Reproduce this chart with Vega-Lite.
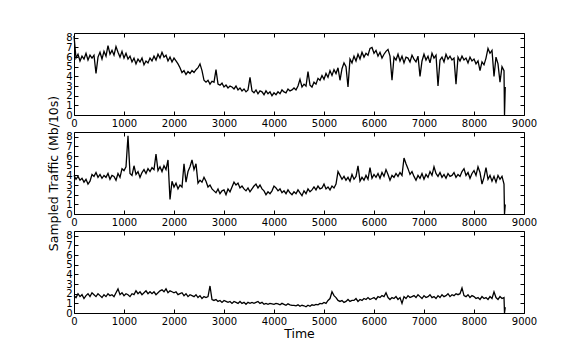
{
  "$schema": "https://vega.github.io/schema/vega-lite/v6.json",
  "padding": {"left": 47, "top": 32, "right": 5, "bottom": 5},
  "background": "white",
  "bounds": "flush",
  "spacing": 17,
  "data": {"values": [
{"t":0,"a":8.2,"b":4.0,"c":1.8},
{"t":40,"a":5.9,"b":3.6,"c":1.6},
{"t":80,"a":6.3,"b":3.9,"c":2.0},
{"t":120,"a":5.6,"b":3.5,"c":1.7},
{"t":160,"a":6.1,"b":3.7,"c":1.9},
{"t":200,"a":5.8,"b":3.3,"c":1.5},
{"t":240,"a":6.4,"b":3.6,"c":1.8},
{"t":280,"a":5.7,"b":3.1,"c":2.0},
{"t":320,"a":6.2,"b":3.4,"c":1.7},
{"t":360,"a":5.9,"b":4.1,"c":2.1},
{"t":400,"a":6.2,"b":3.9,"c":1.9},
{"t":440,"a":4.3,"b":4.3,"c":1.7},
{"t":480,"a":6.0,"b":3.8,"c":2.0},
{"t":520,"a":6.5,"b":4.1,"c":1.8},
{"t":560,"a":5.8,"b":3.7,"c":1.6},
{"t":600,"a":6.6,"b":4.0,"c":1.9},
{"t":640,"a":6.1,"b":3.8,"c":1.7},
{"t":680,"a":7.2,"b":4.2,"c":2.0},
{"t":720,"a":6.3,"b":3.6,"c":1.8},
{"t":760,"a":6.7,"b":4.0,"c":1.9},
{"t":800,"a":6.2,"b":3.9,"c":1.7},
{"t":840,"a":7.1,"b":3.5,"c":2.1},
{"t":880,"a":6.5,"b":4.2,"c":2.5},
{"t":920,"a":6.0,"b":3.8,"c":1.9},
{"t":960,"a":6.6,"b":4.7,"c":2.1},
{"t":1000,"a":5.9,"b":4.5,"c":1.8},
{"t":1040,"a":6.4,"b":4.9,"c":2.0},
{"t":1080,"a":5.8,"b":8.1,"c":1.9},
{"t":1120,"a":6.1,"b":4.2,"c":1.7},
{"t":1160,"a":5.5,"b":4.0,"c":2.0},
{"t":1200,"a":5.9,"b":5.0,"c":1.9},
{"t":1240,"a":5.3,"b":4.1,"c":2.3},
{"t":1280,"a":5.8,"b":4.4,"c":2.0},
{"t":1320,"a":5.5,"b":3.8,"c":2.2},
{"t":1360,"a":5.9,"b":4.3,"c":1.9},
{"t":1400,"a":5.2,"b":4.6,"c":2.1},
{"t":1440,"a":5.6,"b":4.2,"c":2.3},
{"t":1480,"a":5.4,"b":4.7,"c":2.0},
{"t":1520,"a":5.9,"b":4.4,"c":2.2},
{"t":1560,"a":5.6,"b":4.8,"c":2.0},
{"t":1600,"a":6.1,"b":4.6,"c":2.2},
{"t":1640,"a":5.7,"b":6.2,"c":1.9},
{"t":1680,"a":6.3,"b":4.5,"c":2.1},
{"t":1720,"a":5.9,"b":4.9,"c":2.3},
{"t":1760,"a":6.5,"b":4.4,"c":2.4},
{"t":1800,"a":6.0,"b":5.0,"c":2.2},
{"t":1840,"a":6.2,"b":4.6,"c":2.5},
{"t":1880,"a":5.6,"b":5.6,"c":2.1},
{"t":1920,"a":6.0,"b":1.5,"c":2.3},
{"t":1960,"a":5.5,"b":3.4,"c":2.2},
{"t":2000,"a":5.9,"b":2.8,"c":2.1},
{"t":2040,"a":5.6,"b":3.2,"c":2.2},
{"t":2080,"a":5.3,"b":2.6,"c":1.9},
{"t":2120,"a":4.9,"b":3.0,"c":2.0},
{"t":2160,"a":4.4,"b":2.8,"c":2.1},
{"t":2200,"a":4.6,"b":5.2,"c":1.8},
{"t":2240,"a":4.2,"b":3.3,"c":2.0},
{"t":2280,"a":4.5,"b":4.4,"c":1.7},
{"t":2320,"a":4.3,"b":4.9,"c":1.9},
{"t":2360,"a":4.6,"b":5.6,"c":1.8},
{"t":2400,"a":4.4,"b":4.6,"c":1.7},
{"t":2440,"a":4.7,"b":5.2,"c":1.9},
{"t":2480,"a":4.9,"b":3.2,"c":1.6},
{"t":2520,"a":5.3,"b":3.5,"c":1.8},
{"t":2560,"a":4.6,"b":3.3,"c":1.5},
{"t":2600,"a":3.6,"b":3.8,"c":1.7},
{"t":2640,"a":3.4,"b":3.4,"c":1.6},
{"t":2680,"a":3.6,"b":2.8,"c":1.7},
{"t":2720,"a":3.2,"b":3.0,"c":2.8},
{"t":2760,"a":3.5,"b":2.6,"c":1.4},
{"t":2800,"a":3.4,"b":2.4,"c":1.3},
{"t":2840,"a":4.7,"b":2.2,"c":1.4},
{"t":2880,"a":3.2,"b":2.6,"c":1.2},
{"t":2920,"a":3.1,"b":2.1,"c":1.3},
{"t":2960,"a":3.3,"b":2.4,"c":1.1},
{"t":3000,"a":2.9,"b":2.5,"c":1.3},
{"t":3040,"a":3.1,"b":2.0,"c":1.2},
{"t":3080,"a":2.8,"b":2.6,"c":1.1},
{"t":3120,"a":3.0,"b":2.3,"c":1.2},
{"t":3160,"a":2.9,"b":2.8,"c":1.0},
{"t":3200,"a":2.7,"b":3.3,"c":1.2},
{"t":3240,"a":3.0,"b":3.0,"c":1.1},
{"t":3280,"a":2.6,"b":3.2,"c":1.0},
{"t":3320,"a":2.8,"b":2.7,"c":1.2},
{"t":3360,"a":2.5,"b":2.9,"c":1.0},
{"t":3400,"a":2.7,"b":2.6,"c":1.1},
{"t":3440,"a":2.4,"b":2.4,"c":0.9},
{"t":3480,"a":2.6,"b":2.7,"c":1.1},
{"t":3520,"a":3.9,"b":2.3,"c":1.0},
{"t":3560,"a":2.5,"b":2.6,"c":1.1},
{"t":3600,"a":2.3,"b":2.9,"c":1.0},
{"t":3640,"a":2.6,"b":3.1,"c":1.1},
{"t":3680,"a":2.2,"b":2.7,"c":1.2},
{"t":3720,"a":2.5,"b":3.0,"c":1.0},
{"t":3760,"a":2.4,"b":2.6,"c":1.1},
{"t":3800,"a":2.1,"b":2.4,"c":0.9},
{"t":3840,"a":2.5,"b":2.0,"c":1.0},
{"t":3880,"a":2.2,"b":2.3,"c":0.9},
{"t":3920,"a":2.4,"b":2.1,"c":1.0},
{"t":3960,"a":2.0,"b":2.4,"c":0.95},
{"t":4000,"a":2.3,"b":2.9,"c":0.9},
{"t":4040,"a":2.1,"b":2.7,"c":1.0},
{"t":4080,"a":2.4,"b":2.4,"c":0.95},
{"t":4120,"a":2.2,"b":2.6,"c":0.85},
{"t":4160,"a":2.6,"b":2.2,"c":1.0},
{"t":4200,"a":2.4,"b":2.4,"c":0.9},
{"t":4240,"a":2.3,"b":2.1,"c":0.8},
{"t":4280,"a":2.7,"b":2.5,"c":0.95},
{"t":4320,"a":2.5,"b":2.2,"c":0.85},
{"t":4360,"a":2.6,"b":2.0,"c":0.8},
{"t":4400,"a":2.8,"b":2.3,"c":0.8},
{"t":4440,"a":2.6,"b":2.1,"c":0.75},
{"t":4480,"a":3.0,"b":2.5,"c":0.85},
{"t":4520,"a":3.7,"b":2.2,"c":0.7},
{"t":4560,"a":2.9,"b":1.9,"c":0.8},
{"t":4600,"a":3.2,"b":2.4,"c":0.75},
{"t":4640,"a":3.0,"b":2.1,"c":0.65},
{"t":4680,"a":4.5,"b":2.6,"c":0.8},
{"t":4720,"a":3.1,"b":2.3,"c":0.7},
{"t":4760,"a":2.9,"b":2.5,"c":0.85},
{"t":4800,"a":3.4,"b":2.8,"c":0.8},
{"t":4840,"a":3.2,"b":2.5,"c":0.9},
{"t":4880,"a":3.8,"b":2.9,"c":0.85},
{"t":4920,"a":3.6,"b":2.6,"c":1.0},
{"t":4960,"a":4.1,"b":2.7,"c":0.95},
{"t":5000,"a":3.7,"b":3.1,"c":1.1},
{"t":5040,"a":4.3,"b":2.6,"c":1.0},
{"t":5080,"a":3.9,"b":2.8,"c":1.3},
{"t":5120,"a":4.6,"b":2.5,"c":1.5},
{"t":5160,"a":4.1,"b":2.9,"c":2.2},
{"t":5200,"a":4.7,"b":2.7,"c":1.8},
{"t":5240,"a":4.3,"b":3.1,"c":1.6},
{"t":5280,"a":4.9,"b":4.4,"c":1.3},
{"t":5320,"a":3.6,"b":4.0,"c":1.2},
{"t":5360,"a":4.8,"b":3.6,"c":1.3},
{"t":5400,"a":5.4,"b":3.9,"c":1.1},
{"t":5440,"a":5.0,"b":3.5,"c":1.2},
{"t":5480,"a":2.9,"b":3.8,"c":1.4},
{"t":5520,"a":5.8,"b":3.4,"c":1.2},
{"t":5560,"a":5.4,"b":4.1,"c":1.3},
{"t":5600,"a":6.1,"b":3.6,"c":1.3},
{"t":5640,"a":5.6,"b":3.9,"c":1.5},
{"t":5680,"a":6.3,"b":5.0,"c":1.2},
{"t":5720,"a":5.8,"b":3.4,"c":1.4},
{"t":5760,"a":6.5,"b":3.8,"c":1.3},
{"t":5800,"a":6.0,"b":3.5,"c":1.5},
{"t":5840,"a":6.4,"b":4.0,"c":1.4},
{"t":5880,"a":6.2,"b":3.6,"c":1.6},
{"t":5920,"a":6.9,"b":4.8,"c":1.4},
{"t":5960,"a":7.0,"b":3.7,"c":1.5},
{"t":6000,"a":6.4,"b":4.1,"c":1.6},
{"t":6040,"a":6.7,"b":3.8,"c":1.4},
{"t":6080,"a":6.1,"b":4.2,"c":1.7},
{"t":6120,"a":6.5,"b":3.7,"c":1.6},
{"t":6160,"a":5.9,"b":4.3,"c":1.8},
{"t":6200,"a":6.3,"b":3.9,"c":1.7},
{"t":6240,"a":6.6,"b":4.6,"c":2.1},
{"t":6280,"a":6.8,"b":4.1,"c":1.6},
{"t":6320,"a":6.1,"b":3.5,"c":1.4},
{"t":6360,"a":3.6,"b":4.0,"c":1.6},
{"t":6400,"a":6.0,"b":3.8,"c":1.5},
{"t":6440,"a":5.7,"b":4.2,"c":1.7},
{"t":6480,"a":6.3,"b":3.9,"c":1.4},
{"t":6520,"a":5.6,"b":4.3,"c":1.6},
{"t":6560,"a":6.1,"b":4.0,"c":1.0},
{"t":6600,"a":5.4,"b":5.8,"c":1.7},
{"t":6640,"a":6.0,"b":5.2,"c":1.5},
{"t":6680,"a":5.9,"b":4.7,"c":1.8},
{"t":6720,"a":5.5,"b":4.1,"c":1.6},
{"t":6760,"a":6.2,"b":4.4,"c":1.7},
{"t":6800,"a":5.8,"b":3.9,"c":1.8},
{"t":6840,"a":5.5,"b":3.5,"c":1.6},
{"t":6880,"a":6.1,"b":4.0,"c":1.9},
{"t":6920,"a":4.0,"b":3.7,"c":1.7},
{"t":6960,"a":5.6,"b":4.2,"c":1.5},
{"t":7000,"a":6.3,"b":3.6,"c":1.8},
{"t":7040,"a":5.7,"b":4.1,"c":1.6},
{"t":7080,"a":6.1,"b":3.8,"c":1.7},
{"t":7120,"a":5.4,"b":4.4,"c":1.9},
{"t":7160,"a":6.4,"b":4.0,"c":1.6},
{"t":7200,"a":5.9,"b":4.9,"c":1.7},
{"t":7240,"a":6.2,"b":4.2,"c":1.5},
{"t":7280,"a":3.0,"b":3.9,"c":1.8},
{"t":7320,"a":5.7,"b":4.3,"c":1.6},
{"t":7360,"a":6.0,"b":3.8,"c":1.9},
{"t":7400,"a":5.5,"b":4.1,"c":1.7},
{"t":7440,"a":6.3,"b":3.7,"c":1.8},
{"t":7480,"a":5.8,"b":4.2,"c":2.0},
{"t":7520,"a":6.1,"b":3.9,"c":1.7},
{"t":7560,"a":5.7,"b":4.0,"c":1.9},
{"t":7600,"a":5.9,"b":4.3,"c":1.8},
{"t":7640,"a":3.2,"b":3.8,"c":2.0},
{"t":7680,"a":6.0,"b":4.1,"c":1.9},
{"t":7720,"a":5.6,"b":3.9,"c":2.0},
{"t":7760,"a":6.1,"b":4.4,"c":2.6},
{"t":7800,"a":5.7,"b":4.7,"c":1.8},
{"t":7840,"a":5.9,"b":4.0,"c":1.7},
{"t":7880,"a":5.4,"b":4.3,"c":1.9},
{"t":7920,"a":6.0,"b":3.7,"c":1.6},
{"t":7960,"a":5.6,"b":4.2,"c":1.8},
{"t":8000,"a":5.8,"b":4.5,"c":1.7},
{"t":8040,"a":5.3,"b":4.0,"c":1.5},
{"t":8080,"a":5.6,"b":4.9,"c":1.6},
{"t":8120,"a":4.6,"b":4.3,"c":1.4},
{"t":8160,"a":5.5,"b":3.1,"c":1.7},
{"t":8200,"a":5.2,"b":3.8,"c":1.5},
{"t":8240,"a":5.9,"b":4.8,"c":1.6},
{"t":8280,"a":6.9,"b":3.6,"c":1.4},
{"t":8320,"a":6.4,"b":4.0,"c":1.7},
{"t":8360,"a":6.7,"b":3.4,"c":1.5},
{"t":8400,"a":4.0,"b":3.9,"c":2.2},
{"t":8440,"a":6.0,"b":3.3,"c":1.6},
{"t":8480,"a":5.3,"b":4.0,"c":1.4},
{"t":8520,"a":3.4,"b":3.6,"c":1.7},
{"t":8560,"a":5.0,"b":3.9,"c":1.5},
{"t":8600,"a":4.6,"b":3.1,"c":1.6},
{"t":8610,"a":0,"b":0,"c":0},
{"t":8625,"a":2.9,"b":1.0,"c":0.6}
  ]},
  "vconcat": [
    {
      "width": 450, "height": 82,
      "layer": [
        {"mark": {"type": "line", "color": "black", "strokeWidth": 1.3},
         "encoding": {
           "x": {"field": "t", "type": "quantitative", "scale": {"domain": [0, 9000], "nice": false}, "axis": {"orient": "bottom", "values": [0,1000,2000,3000,4000,5000,6000,7000,8000,9000], "title": null}},
           "y": {"field": "a", "type": "quantitative", "scale": {"domain": [0, 8.5], "nice": false}, "axis": {"orient": "left", "values": [0,1,2,3,4,5,6,7,8], "title": null}}
         }},
        {"mark": {"type": "line", "opacity": 0},
         "encoding": {
           "x": {"field": "t", "type": "quantitative", "axis": {"orient": "top", "values": [0,1000,2000,3000,4000,5000,6000,7000,8000,9000], "labels": false, "title": null}},
           "y": {"field": "a", "type": "quantitative", "axis": {"orient": "right", "values": [0,1,2,3,4,5,6,7,8], "labels": false, "title": null}}
         }}
      ],
      "resolve": {"axis": {"x": "independent", "y": "independent"}}
    },
    {
      "width": 450, "height": 82,
      "layer": [
        {"mark": {"type": "line", "color": "black", "strokeWidth": 1.3},
         "encoding": {
           "x": {"field": "t", "type": "quantitative", "scale": {"domain": [0, 9000], "nice": false}, "axis": {"orient": "bottom", "values": [0,1000,2000,3000,4000,5000,6000,7000,8000,9000], "title": null}},
           "y": {"field": "b", "type": "quantitative", "scale": {"domain": [0, 8.5], "nice": false}, "axis": {"orient": "left", "values": [0,1,2,3,4,5,6,7,8], "title": "Sampled Traffic (Mb/10s)", "titlePadding": 5}}
         }},
        {"mark": {"type": "line", "opacity": 0},
         "encoding": {
           "x": {"field": "t", "type": "quantitative", "axis": {"orient": "top", "values": [0,1000,2000,3000,4000,5000,6000,7000,8000,9000], "labels": false, "title": null}},
           "y": {"field": "b", "type": "quantitative", "axis": {"orient": "right", "values": [0,1,2,3,4,5,6,7,8], "labels": false, "title": null}}
         }}
      ],
      "resolve": {"axis": {"x": "independent", "y": "independent"}}
    },
    {
      "width": 450, "height": 82,
      "layer": [
        {"mark": {"type": "line", "color": "black", "strokeWidth": 1.3},
         "encoding": {
           "x": {"field": "t", "type": "quantitative", "scale": {"domain": [0, 9000], "nice": false}, "axis": {"orient": "bottom", "values": [0,1000,2000,3000,4000,5000,6000,7000,8000,9000], "title": "Time", "titlePadding": 1}},
           "y": {"field": "c", "type": "quantitative", "scale": {"domain": [0, 8.5], "nice": false}, "axis": {"orient": "left", "values": [0,1,2,3,4,5,6,7,8], "title": null}}
         }},
        {"mark": {"type": "line", "opacity": 0},
         "encoding": {
           "x": {"field": "t", "type": "quantitative", "axis": {"orient": "top", "values": [0,1000,2000,3000,4000,5000,6000,7000,8000,9000], "labels": false, "title": null}},
           "y": {"field": "c", "type": "quantitative", "axis": {"orient": "right", "values": [0,1,2,3,4,5,6,7,8], "labels": false, "title": null}}
         }}
      ],
      "resolve": {"axis": {"x": "independent", "y": "independent"}}
    }
  ],
  "config": {
    "view": {"stroke": "black", "strokeWidth": 1},
    "axis": {
      "domain": false, "grid": false, "format": "d",
      "tickColor": "black", "tickSize": -4, "tickWidth": 1,
      "labelColor": "black", "labelFont": "DejaVu Sans", "labelFlush": false, "labelOverlap": false,
      "titleFont": "DejaVu Sans", "titleFontWeight": "normal", "titleColor": "black", "titleFontSize": 12.5
    },
    "axisX": {"labelFontSize": 10, "labelPadding": 7},
    "axisY": {"labelFontSize": 10, "labelPadding": 6}
  }
}
